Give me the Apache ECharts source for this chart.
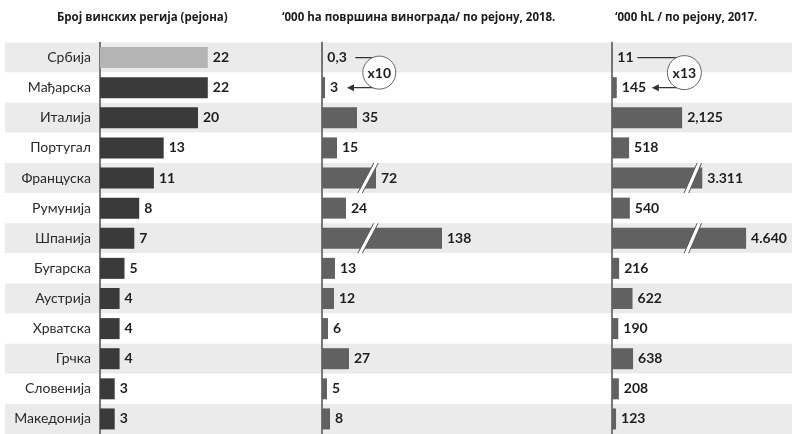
<!DOCTYPE html>
<html>
<head>
<meta charset="utf-8">
<script src="https://cdn.jsdelivr.net/npm/echarts@6/dist/echarts.min.js"></script>
<style>
  html, body { margin: 0; padding: 0; background: #fff; }
  #chart { width: 796px; height: 434px; }
</style>
</head>
<body>
<div id="chart"></div>
<script>
// Rows, top to bottom
const regions = ['Србија', 'Мађарска', 'Италија', 'Португал', 'Француска', 'Румунија', 'Шпанија',
  'Бугарска', 'Аустрија', 'Хрватска', 'Грчка', 'Словенија', 'Македонија'];

// Number of wine regions per country
const wineRegionCount = [22, 22, 20, 13, 11, 8, 7, 5, 4, 4, 4, 3, 3];

// '000 ha of vineyards per region, 2018
const vineyardArea = [0.3, 3, 35, 15, 72, 24, 138, 13, 12, 6, 27, 5, 8];
const vineyardAreaLabels = ['0,3', '3', '35', '15', '72', '24', '138', '13', '12', '6', '27', '5', '8'];

// '000 hL per region, 2017
const wineOutput = [11, 145, 2125, 518, 3311, 540, 4640, 216, 622, 190, 638, 208, 123];
const wineOutputLabels = ['11', '145', '2,125', '518', '3.311', '540', '4.640', '216', '622', '190', '638', '208', '123'];

const panelTitles = [
  'Број винских регија (рејона)',
  '‘000 ha површина винограда/ по рејону, 2018.',
  '‘000 hL / по рејону, 2017.'
];
const ratioNotes = ['x10', 'x13'];

// Compressed stretches of the two value axes (long bars are drawn broken)
const areaBreak = { start: 46, end: 64, gap: 0 };
const outputBreak = { start: 2450, end: 3026, gap: 0 };

const FONT = 'Lato';
const TOP = 42.5, HEIGHT = 396.5;

const chart = echarts.init(document.getElementById('chart'), null, { renderer: 'canvas' });

function catAxis(gridIndex, extra) {
  return Object.assign({
    type: 'category', data: regions, inverse: true, gridIndex: gridIndex,
    axisTick: { show: false },
    axisLabel: { show: false },
    axisLine: { show: true, lineStyle: { color: '#5a5a5a', width: 1.6 } },
    splitLine: { show: false }
  }, extra || {});
}

function valAxis(gridIndex, max, brk) {
  const ax = {
    type: 'value', gridIndex: gridIndex, min: 0, max: max, show: false,
    splitLine: { show: false }
  };
  if (brk) {
    ax.breaks = [brk];
    ax.breakArea = { show: false, itemStyle: { color: 'transparent', borderColor: 'transparent', opacity: 0 } };
  }
  return ax;
}

function valueLabel(texts) {
  return {
    show: true, position: 'right', distance: 5,
    fontFamily: FONT, fontSize: 14, fontWeight: 'bold', color: '#1e1e1e',
    formatter: p => texts[p.dataIndex]
  };
}

// Slanted white cut across a broken bar
function slashRenderer(dx) {
  return function (params, api) {
    const p = api.coord([api.value(0), api.value(1)]);
    const h = 15, w = 4.5;
    const bl = [p[0] - dx - w / 2, p[1] + h], br = [p[0] - dx + w / 2, p[1] + h];
    const tr = [p[0] + dx + w / 2, p[1] - h], tl = [p[0] + dx - w / 2, p[1] - h];
    return {
      type: 'group',
      children: [
        { type: 'polygon', shape: { points: [bl, br, tr, tl] }, style: { fill: '#fff' } },
        { type: 'line', shape: { x1: bl[0], y1: bl[1], x2: tl[0], y2: tl[1] }, style: { stroke: '#555', lineWidth: 1 } },
        { type: 'line', shape: { x1: br[0], y1: br[1], x2: tr[0], y2: tr[1] }, style: { stroke: '#555', lineWidth: 1 } }
      ]
    };
  };
}

// Bracket with a ratio badge linking the first two rows
function ratioRenderer(text, o) {
  return function (params, api) {
    const p0 = api.coord([api.value(0), api.value(1)]);
    const p1 = api.coord([api.value(2), api.value(3)]);
    const x0 = p0[0] + o.from, xc = p0[0] + o.corner, tip = p1[0] + o.tip;
    const cx = p0[0] + o.cx, cy = (p0[1] + p1[1]) / 2;
    return {
      type: 'group',
      children: [
        { type: 'polyline', shape: { points: [[x0, p0[1]], [xc, p0[1]], [xc, p1[1]], [tip + 5, p1[1]]] },
          style: { stroke: '#333', lineWidth: 1.2, fill: null } },
        { type: 'polygon', shape: { points: [[tip, p1[1]], [tip + 7, p1[1] - 3.5], [tip + 7, p1[1] + 3.5]] },
          style: { fill: '#333' } },
        { type: 'circle', shape: { cx: cx, cy: cy, r: o.r }, style: { fill: '#fff', stroke: '#666', lineWidth: 1 } },
        { type: 'text', style: { text: text, x: cx, y: cy + 1, align: 'center', verticalAlign: 'middle',
          font: 'bold 14px ' + FONT, fill: '#1e1e1e' } }
      ]
    };
  };
}

const areaSlashes = vineyardArea.map((v, i) => (v > areaBreak.end ? [areaBreak.start, i] : null)).filter(Boolean);
const outputSlashes = wineOutput.map((v, i) => (v > outputBreak.end ? [outputBreak.start, i] : null)).filter(Boolean);

const titleStyle = { fontFamily: 'Open Sans', fontSize: 11.5, fontWeight: 'bold', color: '#1a1a1a' };

const option = {
  backgroundColor: '#fff',
  animation: false,
  title: [
    { text: panelTitles[0], left: 57, top: 12, padding: 0, textStyle: titleStyle },
    { text: panelTitles[1], left: 282, top: 12, padding: 0, textStyle: titleStyle },
    { text: panelTitles[2], left: 615, top: 12, padding: 0, textStyle: titleStyle }
  ],
  grid: [
    { left: 5, width: 787, top: TOP, height: HEIGHT },   // row bands
    { left: 100, width: 196, top: TOP, height: HEIGHT }, // region count
    { left: 322, width: 200, top: TOP, height: HEIGHT }, // vineyard area
    { left: 612, width: 165, top: TOP, height: HEIGHT }  // wine output
  ],
  xAxis: [
    valAxis(0, 1),
    valAxis(1, 40),
    valAxis(2, 218, areaBreak),
    valAxis(3, 5576, outputBreak)
  ],
  yAxis: [
    catAxis(0, {
      axisLine: { show: false },
      splitArea: { show: true, areaStyle: { color: ['#ebebeb', '#ffffff'] } }
    }),
    catAxis(1, {
      axisLabel: { show: true, fontFamily: FONT, fontSize: 14, color: '#2a2a2a', margin: 9 }
    }),
    catAxis(2),
    catAxis(3)
  ],
  series: [
    {
      type: 'bar', xAxisIndex: 1, yAxisIndex: 1, barWidth: 21, z: 2,
      data: wineRegionCount.map((v, i) => ({
        value: v,
        itemStyle: { color: i === 0 ? '#b4b4b4' : '#3a3a3a' }
      })),
      label: valueLabel(wineRegionCount.map(String))
    },
    {
      type: 'bar', xAxisIndex: 2, yAxisIndex: 2, barWidth: 21, z: 2,
      itemStyle: { color: '#616161' },
      data: vineyardArea,
      label: valueLabel(vineyardAreaLabels)
    },
    {
      type: 'bar', xAxisIndex: 3, yAxisIndex: 3, barWidth: 21, z: 2,
      itemStyle: { color: '#616161' },
      data: wineOutput,
      label: valueLabel(wineOutputLabels)
    },
    {
      type: 'custom', xAxisIndex: 2, yAxisIndex: 2, z: 4,
      renderItem: slashRenderer(8), data: areaSlashes, encode: { x: 0, y: 1 }, silent: true
    },
    {
      type: 'custom', xAxisIndex: 3, yAxisIndex: 3, z: 4,
      renderItem: slashRenderer(6.5), data: outputSlashes, encode: { x: 0, y: 1 }, silent: true
    },
    {
      type: 'custom', xAxisIndex: 2, yAxisIndex: 2, z: 5,
      renderItem: ratioRenderer(ratioNotes[0], { from: 33, corner: 51, tip: 22, cx: 57, r: 16.5 }),
      data: [[vineyardArea[0], 0, vineyardArea[1], 1]], encode: { x: 0, y: 1 }, silent: true
    },
    {
      type: 'custom', xAxisIndex: 3, yAxisIndex: 3, z: 5,
      renderItem: ratioRenderer(ratioNotes[1], { from: 25, corner: 66, tip: 35, cx: 72, r: 17 }),
      data: [[wineOutput[0], 0, wineOutput[1], 1]], encode: { x: 0, y: 1 }, silent: true
    }
  ]
};

chart.setOption(option);
</script>
</body>
</html>
